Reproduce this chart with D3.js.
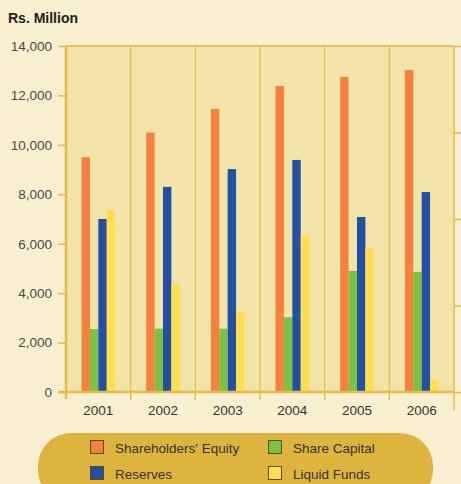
<html>
<head>
<meta charset="utf-8">
<script src="https://cdnjs.cloudflare.com/ajax/libs/d3/7.8.5/d3.min.js"></script>
<style>
  body { margin: 0; background: #f8efd1; font-family: "Liberation Sans", Arial, sans-serif; }
  svg { display: block; }
</style>
</head>
<body>
<div id="chart"></div>
<script>
var years = ["2001", "2002", "2003", "2004", "2005", "2006"];
var seriesNames = ["Shareholders' Equity", "Share Capital", "Reserves", "Liquid Funds"];
var equity = [9500, 10500, 11450, 12380, 12750, 13030];
var shareCapital = [2550, 2560, 2560, 3030, 4900, 4860];
var reserves = [7000, 8300, 9020, 9390, 7080, 8090];
var liquidFunds = [7370, 4400, 3250, 6350, 5830, 490];
var yTicks = [0, 2000, 4000, 6000, 8000, 10000, 12000, 14000];
var colors = ["#f5813f", "#7dc142", "#2450a4", "#ffdf4f"];

var width = 461, height = 484;
var margin = { left: 66, right: 7, top: 46, bottom: 92 };
var plotW = width - margin.left - margin.right,
    plotH = height - margin.top - margin.bottom;

var svg = d3.select("#chart").append("svg")
    .attr("width", width)
    .attr("height", height);

svg.append("rect").attr("width", width).attr("height", height).attr("fill", "#f8efd1");

var g = svg.append("g").attr("transform", "translate(" + margin.left + "," + margin.top + ")");

var x = d3.scaleBand().domain(years).range([0, plotW]);
var inner = d3.scaleBand().domain(seriesNames).range([0, x.bandwidth() * 0.52]);
var y = d3.scaleLinear().domain([0, 14000]).range([plotH, 0]);

var table = years.map(function(yr, i) {
  return { year: yr, values: [equity[i], shareCapital[i], reserves[i], liquidFunds[i]] };
});

// plot background
g.append("rect").attr("width", plotW).attr("height", plotH).attr("fill", "#f2e3a9");

// vertical separators
g.selectAll(".sep")
  .data(years.slice(1))
  .enter().append("line")
  .attr("x1", function(d) { return x(d); })
  .attr("x2", function(d) { return x(d); })
  .attr("y1", 0).attr("y2", plotH)
  .attr("stroke", "#e6c35a").attr("stroke-width", 1.5);

g.append("line").attr("x1", 0).attr("x2", plotW).attr("y1", 0).attr("y2", 0)
  .attr("stroke", "#e6c35a").attr("stroke-width", 2);

// bars
var groups = g.selectAll(".grp")
  .data(table)
  .enter().append("g")
  .attr("transform", function(d) {
    return "translate(" + (x(d.year) + (x.bandwidth() - inner.range()[1]) / 2) + ",0)";
  });

groups.selectAll("rect")
  .data(function(d) { return d.values.map(function(v, k) { return { name: seriesNames[k], v: v, k: k }; }); })
  .enter().append("rect")
  .attr("x", function(d) { return inner(d.name); })
  .attr("width", inner.bandwidth())
  .attr("y", function(d) { return y(d.v); })
  .attr("height", function(d) { return plotH - y(d.v); })
  .attr("fill", function(d) { return colors[d.k]; });

// left axis
var yAxis = g.append("g").call(d3.axisLeft(y).tickValues(yTicks).tickSize(8).tickPadding(6).tickFormat(d3.format(",")));
yAxis.select(".domain").remove();
yAxis.selectAll(".tick line").attr("stroke", "#e3bd4a").attr("stroke-width", 1.5);
yAxis.selectAll("text").attr("fill", "#4a4a4a").style("font-size", "13.5px").style("font-family", "Liberation Sans, Arial, sans-serif");

g.append("line").attr("x1", 0).attr("x2", 0).attr("y1", 0).attr("y2", plotH + 7)
  .attr("stroke", "#e3bd4a").attr("stroke-width", 2.5);

// right axis (ticks only)
var yRight = d3.scaleLinear().domain([0, 4]).range([plotH, 0]);
var rAxis = g.append("g").attr("transform", "translate(" + plotW + ",0)")
  .call(d3.axisRight(yRight).ticks(4).tickSize(8).tickFormat(""));
rAxis.select(".domain").remove();
rAxis.selectAll(".tick line").attr("stroke", "#e3bd4a").attr("stroke-width", 1.5);
g.append("line").attr("x1", plotW).attr("x2", plotW).attr("y1", 0).attr("y2", plotH + 18)
  .attr("stroke", "#e3bd4a").attr("stroke-width", 1.5);

// bottom axis
var xAxis = g.append("g").attr("transform", "translate(0," + plotH + ")")
  .call(d3.axisBottom(x).tickSize(0).tickPadding(13));
xAxis.select(".domain").remove();
xAxis.selectAll("text").attr("fill", "#333").style("font-size", "13.5px").style("font-family", "Liberation Sans, Arial, sans-serif");
g.append("line").attr("x1", -8).attr("x2", plotW).attr("y1", plotH).attr("y2", plotH)
  .attr("stroke", "#e3bd4a").attr("stroke-width", 2.5);
g.selectAll(".xt")
  .data(years.slice(1))
  .enter().append("line")
  .attr("x1", function(d) { return x(d); })
  .attr("x2", function(d) { return x(d); })
  .attr("y1", plotH).attr("y2", plotH + 8)
  .attr("stroke", "#e3bd4a").attr("stroke-width", 1.5);

// title
svg.append("text").attr("x", 8).attr("y", 23)
  .text("Rs. Million")
  .attr("fill", "#222").style("font-weight", "bold").style("font-size", "14px");

// legend
svg.append("rect").attr("x", 38).attr("y", 433).attr("width", 395).attr("height", 70)
  .attr("rx", 33).attr("fill", "#ddb53e");

var legendPos = [[90, 440], [268, 440], [90, 466], [268, 466]];
var legendOrder = [0, 1, 2, 3];
var leg = svg.selectAll(".leg")
  .data(legendOrder)
  .enter().append("g")
  .attr("transform", function(d, i) { return "translate(" + legendPos[i][0] + "," + legendPos[i][1] + ")"; });
leg.append("rect").attr("x", 0.5).attr("y", 0.5).attr("width", 13).attr("height", 13)
  .attr("fill", function(d) { return colors[d]; })
  .attr("stroke", "#5a4a2a").attr("stroke-width", 1);
leg.append("text").attr("x", 25).attr("y", 12.5)
  .text(function(d) { return seriesNames[d]; })
  .attr("fill", "#333").style("font-size", "13.5px");
</script>
</body>
</html>
